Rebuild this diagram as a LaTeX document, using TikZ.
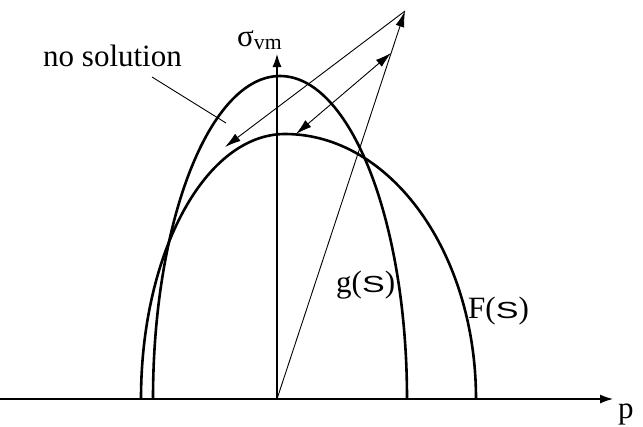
\documentclass[tikz,border=0pt]{standalone}
\usepackage{fontspec}
\setmainfont{Liberation Serif}
\newfontfamily\labelsans{Liberation Sans}
\usetikzlibrary{arrows.meta, calc}

\newcommand{\sletter}{\scalebox{1.1}[0.75]{\labelsans S}}

\begin{document}
\begin{tikzpicture}[
    x=1pt, y=-1pt,
    axis/.style={-{Latex[length=13pt,width=9pt]}, line width=1.2pt},
    curve/.style={line width=2.6pt},
    arrow/.style={-{Latex[length=16pt,width=9pt]}, line width=0.9pt},
    dblarrow/.style={{Latex[length=16pt,width=9pt]}-{Latex[length=16pt,width=9pt]}, line width=0.9pt},
    label/.style={anchor=base west, inner sep=0pt, font=\fontsize{31}{36}\selectfont},
  ]
  \useasboundingbox (0,0) rectangle (643,426);

  % axes
  \coordinate (pstart) at (0,399);
  \coordinate (O) at (277,399);
  \coordinate (pend) at (613,399);
  \coordinate (sigend) at (277,54);
  \draw[axis] (pstart) -- (pend);
  \draw[axis] (O) -- (sigend);
  \node[label] (plabel) at (618,418) {p};
  \node[label] (siglabel) at (237,46) {σ\textsubscript{vm}};

  % limit curves
  \draw[curve] (153,399) arc[start angle=180, end angle=360, x radius=127, y radius=323];
  \draw[curve] (141,399) arc[start angle=180, end angle=270, x radius=144, y radius=265]
    arc[start angle=270, end angle=360, x radius=191, y radius=265];
  \node[label] (glabel) at (336,292) {g(\sletter)};
  \node[label] (Flabel) at (468,318) {F(\sletter)};

  % rays
  \coordinate (T) at (405,11);
  \coordinate (M) at ($(O)!0.892!(T)$);
  \coordinate (N) at (225,147);
  \coordinate (Bpeak) at (296,134);
  \draw[arrow] (O) -- (T);
  \draw[arrow] (T) -- (N);
  \draw[dblarrow] (M) -- (Bpeak);

  % region label
  \node[label] (nosol) at (43,66) {no solution};
  \coordinate (nsfrom) at (152,77);
  \coordinate (nsto) at (226,123);
  \draw[line width=0.9pt] (nsfrom) -- (nsto);
\end{tikzpicture}
\end{document}
